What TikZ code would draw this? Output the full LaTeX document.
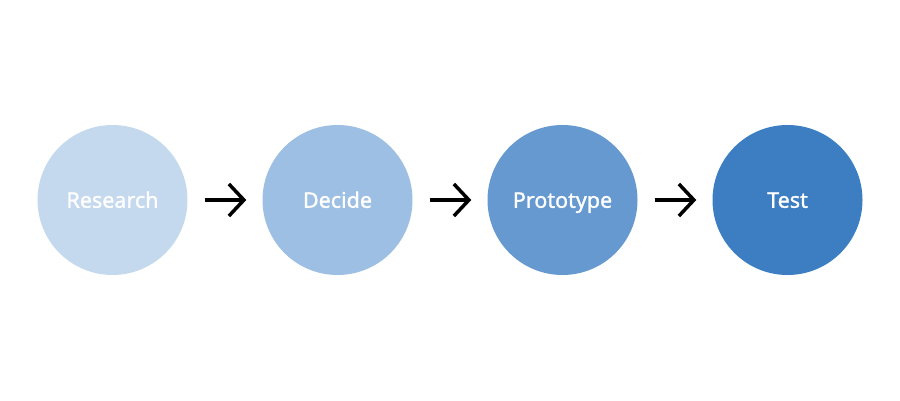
\documentclass[tikz,border=0pt]{standalone}
\usepackage{fontspec}
\setmainfont{Noto Sans}[FakeBold=1.3]
\usetikzlibrary{arrows.meta}
\definecolor{cA}{HTML}{C5D9EE}
\definecolor{cB}{HTML}{9DBFE3}
\definecolor{cC}{HTML}{6699D0}
\definecolor{cD}{HTML}{3D7EC3}
\begin{document}
\begin{tikzpicture}[x=1pt,y=1pt,
  stage/.style={circle,minimum size=150pt,inner sep=0pt,text=white,text height=15.5pt,text depth=0pt,font=\fontsize{21.5}{24}\selectfont},
  flow/.style={line width=3.5pt,-{Straight Barb[length=15pt,width=32pt,line width=3.5pt]},shorten <=17pt,shorten >=16pt}]
\useasboundingbox (0,0) rectangle (900,400);
\node[stage,fill=cA] (r) at (112.5,200) {Research};
\node[stage,fill=cB] (d) at (337.5,200) {Decide};
\node[stage,fill=cC] (p) at (562.5,200) {Prototype};
\node[stage,fill=cD] (t) at (787.5,200) {Test};
\draw[flow] (r) -- (d);
\draw[flow] (d) -- (p);
\draw[flow] (p) -- (t);
\end{tikzpicture}
\end{document}
